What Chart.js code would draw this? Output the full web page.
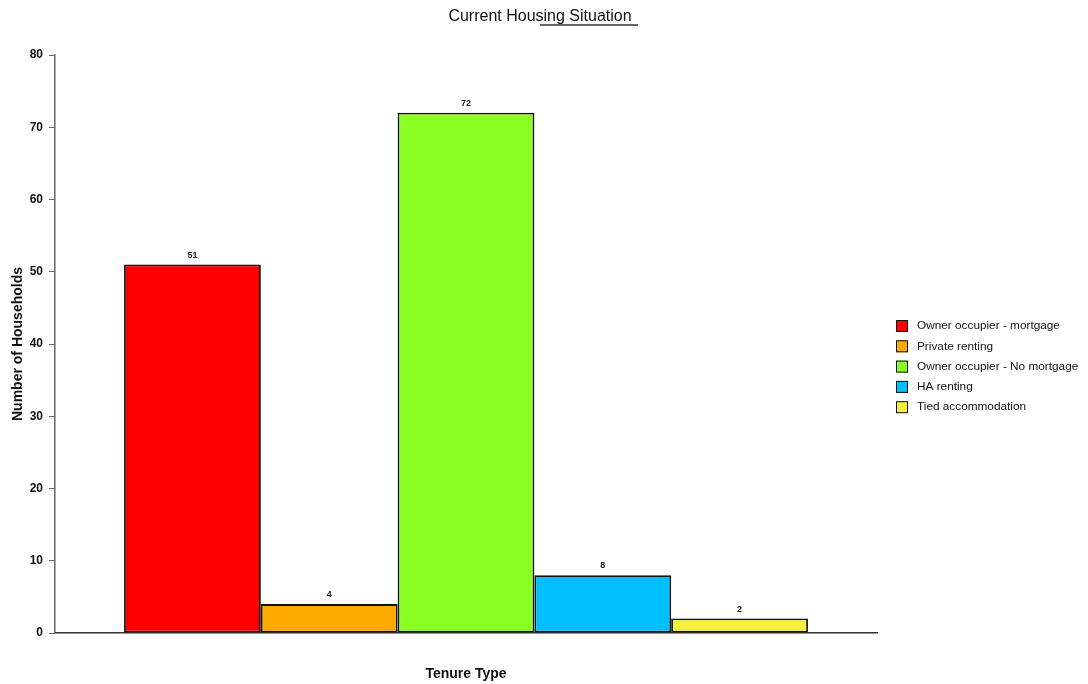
<!DOCTYPE html>
<html>
<head>
<meta charset="utf-8">
<script src="https://cdn.jsdelivr.net/npm/chart.js@4.4.1/dist/chart.umd.min.js"></script>
<style>
  html, body { margin: 0; padding: 0; background: #fff; }
  #wrap { width: 1088px; height: 684px; position: relative; }
</style>
</head>
<body>
<div id="wrap"><canvas id="chart" width="1088" height="684"></canvas></div>
<script>
// Tenure types and household counts
const categories = ['Tenure Type'];
const seriesLabels = [
  'Owner occupier - mortgage',
  'Private renting',
  'Owner occupier - No mortgage',
  'HA renting',
  'Tied accommodation'
];
const seriesValues = [51, 4, 72, 8, 2];
const seriesColors = ['#FF0000', '#FFAA00', '#8AFF22', '#00C0FF', '#F4F03C'];
const yTicks = [0, 10, 20, 30, 40, 50, 60, 70, 80];
const chartTitle = 'Current Housing Situation';

const FONT = 'Arial, "Liberation Sans", sans-serif';

// Value labels above each bar
const valueLabels = {
  id: 'valueLabels',
  afterDatasetsDraw(chart) {
    const ctx = chart.ctx;
    ctx.save();
    ctx.font = 'bold 9px ' + FONT;
    ctx.fillStyle = '#222';
    ctx.textAlign = 'center';
    ctx.textBaseline = 'bottom';
    chart.data.datasets.forEach((ds, i) => {
      const meta = chart.getDatasetMeta(i);
      meta.data.forEach((bar, j) => {
        ctx.fillText(String(ds.data[j]), bar.x, bar.y - 5);
      });
    });
    ctx.restore();
  }
};

// Heading and legend at the right, swatches with dark outline
const sideLegend = {
  id: 'sideLegend',
  afterDraw(chart) {
    const ctx = chart.ctx;
    ctx.save();
    ctx.font = '16px ' + FONT;
    ctx.fillStyle = '#111';
    ctx.textAlign = 'center';
    ctx.textBaseline = 'middle';
    ctx.fillText(chartTitle, 540, 17);
    // rule beneath the heading
    ctx.strokeStyle = '#666';
    ctx.lineWidth = 2;
    ctx.beginPath();
    ctx.moveTo(540, 25);
    ctx.lineTo(638, 25);
    ctx.stroke();

    const x0 = 896, y0 = 326, step = 20.3, box = 12;
    ctx.font = '11.8px ' + FONT;
    ctx.textBaseline = 'middle';
    ctx.textAlign = 'left';
    chart.data.datasets.forEach((ds, i) => {
      const cy = y0 + i * step;
      ctx.fillStyle = ds.backgroundColor;
      ctx.fillRect(x0, cy - box / 2, box, box);
      ctx.lineWidth = 1;
      ctx.strokeStyle = '#111';
      ctx.strokeRect(x0 + 0.5, cy - box / 2 + 0.5, box - 1, box - 1);
      ctx.fillStyle = '#111';
      ctx.fillText(ds.label, x0 + 21, cy);
    });
    ctx.restore();
  }
};

new Chart(document.getElementById('chart'), {
  type: 'bar',
  data: {
    labels: categories,
    datasets: seriesLabels.map((label, i) => ({
      label,
      data: [seriesValues[i]],
      backgroundColor: seriesColors[i],
      borderColor: '#111',
      borderWidth: 1.8,
      borderSkipped: false
    }))
  },
  options: {
    responsive: false,
    animation: false,
    devicePixelRatio: 1,
    layout: { padding: { left: 0, right: 211, top: 55, bottom: 0 } },
    datasets: { bar: { categoryPercentage: 0.832, barPercentage: 1.0 } },
    plugins: {
      legend: { display: false },
      tooltip: { enabled: false },
      title: { display: false }
    },
    scales: {
      x: {
        ticks: { display: false },
        grid: { display: false, drawTicks: false },
        border: { display: true, color: '#333', width: 1.5 },
        title: {
          display: true,
          text: 'Tenure Type',
          color: '#111',
          font: { family: FONT, size: 14, weight: 'bold' },
          padding: { top: 4, bottom: 1 }
        },
        afterFit(s) { s.height = 51; }
      },
      y: {
        min: 0,
        max: 80,
        afterBuildTicks(s) { s.ticks = yTicks.map(v => ({ value: v })); },
        ticks: {
          color: '#111',
          font: { family: FONT, size: 12, weight: 'bold' },
          padding: 6,
          autoSkip: false
        },
        grid: { drawOnChartArea: false, drawTicks: true, tickLength: 6, color: '#666' },
        border: { display: true, color: '#666', width: 1.5 },
        title: {
          display: true,
          text: 'Number of Households',
          color: '#111',
          font: { family: FONT, size: 14, weight: 'bold' },
          padding: { top: 10, bottom: 4 }
        },
        afterFit(s) { s.width = 55; }
      }
    }
  },
  plugins: [valueLabels, sideLegend]
});
</script>
</body>
</html>
